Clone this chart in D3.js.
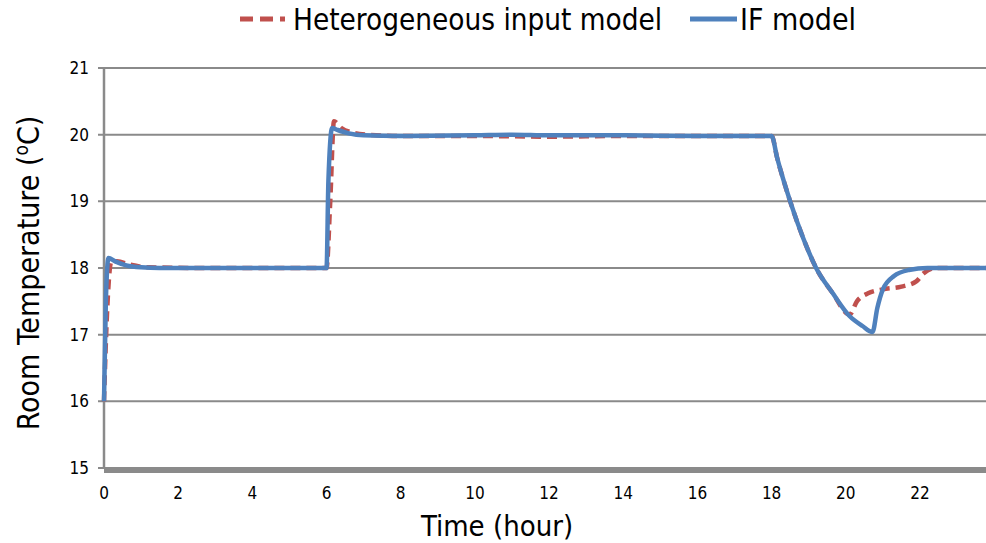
<!DOCTYPE html>
<html>
<head>
<meta charset="utf-8">
<script src="https://cdn.jsdelivr.net/npm/d3@7"></script>
<style>
  body { margin: 0; background: #fff; }
  svg { display: block; }
  text { font-family: "Liberation Sans Narrow", "DejaVu Sans Condensed", sans-serif; fill: #000; }
</style>
</head>
<body>
<div id="chart"></div>
<script>
const yTicks = [15, 16, 17, 18, 19, 20, 21]
const xTicks = [0, 2, 4, 6, 8, 10, 12, 14, 16, 18, 20, 22]
const seriesNames = ['Heterogeneous input model', 'IF model']

// IF model
const ifTime = [0, 0.05, 0.12, 0.3, 0.6, 1.0, 1.5, 3, 6.0, 6.05, 6.15, 6.3, 6.6, 7.0, 8, 10, 11, 12, 14, 16,
  18.0, 18.15, 18.5, 18.85, 19.2, 19.65, 20.1, 20.45, 20.72, 20.85, 21.0, 21.3, 21.7, 22.2, 23, 23.8]
const ifTemp = [16, 17.5, 18.15, 18.1, 18.04, 18.01, 18.0, 18.0, 18.0, 19.3, 20.1, 20.07, 20.02, 19.99, 19.98, 19.99, 20.0, 19.99, 19.99, 19.98,
  19.98, 19.65, 19.0, 18.45, 18.0, 17.62, 17.28, 17.13, 17.04, 17.4, 17.68, 17.88, 17.97, 18.0, 18.0, 18.0]

// heterogeneous input model
const hetTime = [0, 0.08, 0.2, 0.35, 0.7, 1.2, 3, 6.0, 6.1, 6.2, 6.4, 6.7, 7.1, 8, 10, 12, 14, 16,
  18, 18.15, 18.5, 18.85, 19.2, 19.65, 20.1, 20.3, 20.6, 21.0, 21.5, 21.9, 22.1, 22.4, 23, 23.8]
const hetTemp = [16, 17.3, 18.1, 18.1, 18.05, 18.01, 18, 18, 19.0, 20.2, 20.1, 20.03, 20.0, 19.98, 19.98, 19.97, 19.98, 19.98,
  19.98, 19.65, 19.0, 18.45, 18.0, 17.62, 17.3, 17.5, 17.62, 17.68, 17.72, 17.8, 17.92, 18.0, 18.0, 18.0]

const W = 986, H = 543
const red = '#C0504D', blue = '#4F81BD', grid = '#8a8a8a'

const x = d3.scaleLinear().domain([0, 23.78]).range([104, 986])
const y = d3.scaleLinear().domain([15, 21]).range([468, 68])

const svg = d3.select('#chart').append('svg')
  .attr('width', W).attr('height', H)

// gridlines
svg.append('g').selectAll('line')
  .data(yTicks.filter(d => d > 15))
  .enter().append('line')
    .attr('x1', 98).attr('x2', W)
    .attr('y1', d => y(d)).attr('y2', d => y(d))
    .attr('stroke', grid).attr('stroke-width', 2)

// y axis
svg.append('line')
  .attr('x1', 104).attr('x2', 104).attr('y1', y(21)).attr('y2', y(15))
  .attr('stroke', grid).attr('stroke-width', 2.5)
svg.append('line')
  .attr('x1', 98).attr('x2', 104).attr('y1', y(15)).attr('y2', y(15))
  .attr('stroke', grid).attr('stroke-width', 2)

svg.append('g').selectAll('text')
  .data(yTicks)
  .enter().append('text')
    .attr('x', 89).attr('y', d => y(d))
    .attr('dy', '0.35em')
    .attr('text-anchor', 'end')
    .attr('font-size', 17)
    .text(d => d)

// x axis (thick bottom band)
svg.append('line')
  .attr('x1', 104).attr('x2', W).attr('y1', y(15) + 2).attr('y2', y(15) + 2)
  .attr('stroke', grid).attr('stroke-width', 6)

svg.append('g').selectAll('text')
  .data(xTicks)
  .enter().append('text')
    .attr('x', d => x(d)).attr('y', 493)
    .attr('dy', '0.35em')
    .attr('text-anchor', 'middle')
    .attr('font-size', 17)
    .text(d => d)

// series
const line = d3.line().x(d => x(d[0])).y(d => y(d[1])).curve(d3.curveMonotoneX)

svg.append('path')
  .datum(d3.zip(hetTime, hetTemp))
  .attr('d', line)
  .attr('fill', 'none').attr('stroke', red).attr('stroke-width', 4.5)
  .attr('stroke-dasharray', '10,6')

svg.append('path')
  .datum(d3.zip(ifTime, ifTemp))
  .attr('d', line)
  .attr('fill', 'none').attr('stroke', blue).attr('stroke-width', 4.5)
  .attr('stroke-linejoin', 'round')

// axis titles
svg.append('text')
  .attr('x', 497).attr('y', 536)
  .attr('text-anchor', 'middle')
  .attr('font-size', 29)
  .text('Time (hour)')

const yl = svg.append('text')
  .attr('transform', 'translate(39,273) rotate(-90)')
  .attr('text-anchor', 'middle')
  .attr('font-size', 30)
yl.append('tspan').text('Room Temperature (')
yl.append('tspan').attr('font-size', 19).attr('dy', -11).text('o')
yl.append('tspan').attr('dy', 11).text('C)')

// legend
const leg = svg.append('g')
leg.append('line')
  .attr('x1', 240).attr('x2', 285).attr('y1', 19).attr('y2', 19)
  .attr('stroke', red).attr('stroke-width', 5).attr('stroke-dasharray', '13,7')
leg.append('text')
  .attr('x', 293).attr('y', 30).attr('font-size', 29.4)
  .text(seriesNames[0])
leg.append('line')
  .attr('x1', 690).attr('x2', 737).attr('y1', 19).attr('y2', 19)
  .attr('stroke', blue).attr('stroke-width', 5)
leg.append('text')
  .attr('x', 740).attr('y', 30).attr('font-size', 30)
  .text(seriesNames[1])
</script>
</body>
</html>
